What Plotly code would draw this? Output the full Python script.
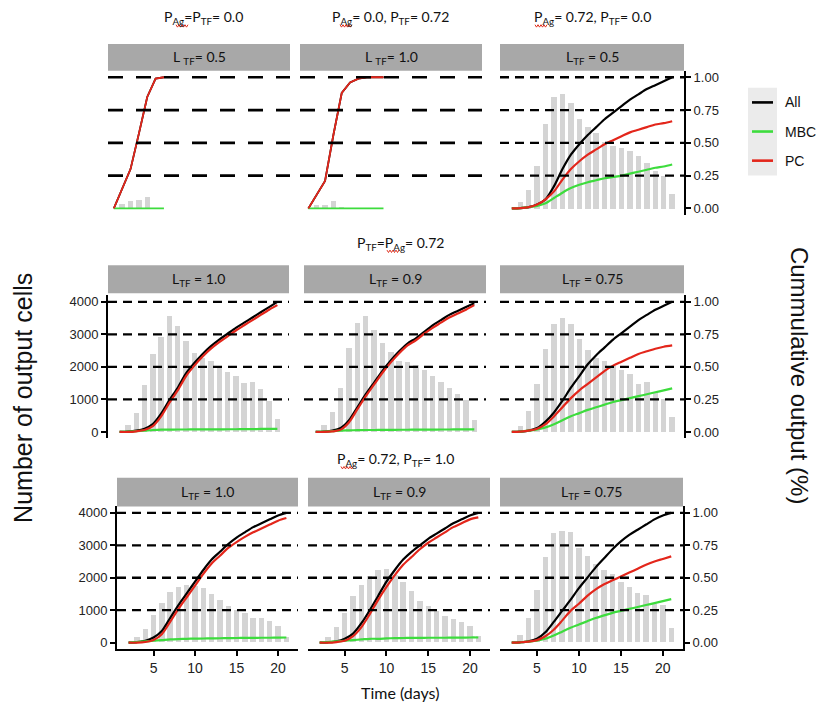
import plotly.graph_objects as go

W, H = 820, 711

# ---------------- data ----------------
line_days = list(range(2, 22))
bar_days = list(range(3, 22))

# top row, left two panels (short simulations)
r1c1_days = [1, 2, 3, 4, 5, 6, 7]
r1c1_all = [0, 0.15, 0.30, 0.57, 0.85, 0.99, 1.0]
r1c1_mbc = [0, 0, 0, 0, 0, 0, 0]
r1c1_pc = [0, 0.15, 0.30, 0.57, 0.85, 0.99, 1.0]
r1c1_bar_days = [2, 3, 4, 5]
r1c1_bars = [150, 250, 275, 355]

r1c2_days = [1, 2, 3, 4, 5, 6, 7, 8, 9, 10]
r1c2_all = [0, 0.10, 0.21, 0.56, 0.88, 0.96, 0.99, 1.0, 1.0, 1.0]
r1c2_mbc = [0, 0, 0, 0, 0, 0, 0, 0, 0, 0]
r1c2_pc = [0, 0.10, 0.21, 0.56, 0.88, 0.96, 0.99, 1.0, 1.0, 1.0]
r1c2_bar_days = [2, 3, 4, 5]
r1c2_bars = [100, 120, 225, 30]

# top row, right panel
r1c3_bars = [200, 580, 1300, 2580, 3420, 3500, 3220, 2750, 2480, 2300,
             2050, 1900, 1850, 1750, 1600, 1400, 1140, 1000, 460]
r1c3_all = [0, 0.003, 0.01, 0.03, 0.07, 0.17, 0.30, 0.41, 0.49, 0.56,
            0.62, 0.68, 0.73, 0.78, 0.83, 0.87, 0.91, 0.94, 0.97, 1.0]
r1c3_mbc = [0, 0.003, 0.01, 0.02, 0.04, 0.08, 0.12, 0.155, 0.18, 0.20,
            0.215, 0.23, 0.24, 0.25, 0.265, 0.28, 0.295, 0.31, 0.32, 0.335]
r1c3_pc = [0, 0.003, 0.01, 0.03, 0.07, 0.13, 0.22, 0.30, 0.36, 0.41,
           0.45, 0.49, 0.52, 0.55, 0.58, 0.60, 0.62, 0.64, 0.65, 0.665]

# middle row
r2c1_bars = [200, 560, 1430, 2400, 2910, 3560, 3260, 2790, 2420, 2250,
             2160, 1960, 1830, 1700, 1500, 1520, 1310, 950, 400]
r2c1_all = [0, 0.003, 0.01, 0.025, 0.06, 0.14, 0.245, 0.34, 0.45, 0.53,
            0.60, 0.66, 0.71, 0.755, 0.80, 0.84, 0.88, 0.92, 0.96, 1.0]
r2c1_mbc = [0, 0.003, 0.006, 0.01, 0.015, 0.018, 0.018, 0.019, 0.019, 0.02,
            0.02, 0.02, 0.02, 0.021, 0.021, 0.022, 0.022, 0.023, 0.023, 0.024]
r2c1_pc = [0, 0, 0.005, 0.015, 0.045, 0.12, 0.225, 0.32, 0.43, 0.51,
           0.58, 0.64, 0.69, 0.735, 0.78, 0.82, 0.86, 0.90, 0.94, 0.975]

r2c2_bars = [205, 615, 1354, 2564, 3354, 3569, 3128, 2738, 2462, 2174,
             2154, 2051, 1897, 1713, 1538, 1333, 1149, 974, 359]
r2c2_all = [0, 0.003, 0.01, 0.03, 0.09, 0.19, 0.29, 0.38, 0.47, 0.55,
            0.62, 0.68, 0.72, 0.77, 0.82, 0.86, 0.90, 0.93, 0.96, 0.99]
r2c2_mbc = [0, 0.003, 0.006, 0.01, 0.012, 0.014, 0.015, 0.015, 0.016, 0.016,
            0.017, 0.017, 0.018, 0.018, 0.018, 0.019, 0.019, 0.02, 0.02, 0.02]
r2c2_pc = [0, 0, 0.004, 0.018, 0.075, 0.175, 0.275, 0.365, 0.455, 0.535,
           0.605, 0.665, 0.705, 0.755, 0.80, 0.84, 0.88, 0.91, 0.94, 0.975]

r2c3_bars = [173, 633, 1449, 2541, 3306, 3490, 3306, 2857, 2520, 2265,
             2163, 2010, 1906, 1786, 1469, 1520, 1214, 990, 449]
r2c3_all = [0, 0.003, 0.01, 0.03, 0.08, 0.15, 0.24, 0.34, 0.43, 0.52,
            0.59, 0.65, 0.71, 0.76, 0.81, 0.86, 0.90, 0.94, 0.97, 1.0]
r2c3_mbc = [0, 0.003, 0.01, 0.02, 0.035, 0.06, 0.09, 0.12, 0.145, 0.17,
            0.19, 0.21, 0.23, 0.245, 0.26, 0.275, 0.29, 0.305, 0.32, 0.335]
r2c3_pc = [0, 0.003, 0.01, 0.025, 0.06, 0.12, 0.19, 0.26, 0.32, 0.37,
           0.42, 0.47, 0.51, 0.54, 0.57, 0.60, 0.62, 0.64, 0.655, 0.665]

# bottom row
r3c1_bars = [154, 410, 851, 1200, 1540, 1713, 1770, 1720, 1670, 1500,
             1300, 1130, 1000, 890, 755, 755, 650, 515, 160]
r3c1_all = [0, 0.005, 0.015, 0.04, 0.09, 0.19, 0.29, 0.38, 0.47, 0.56,
            0.64, 0.70, 0.76, 0.81, 0.85, 0.89, 0.92, 0.95, 0.98, 1.0]
r3c1_mbc = [0, 0.005, 0.01, 0.015, 0.02, 0.025, 0.028, 0.03, 0.031, 0.032,
            0.033, 0.034, 0.035, 0.036, 0.037, 0.037, 0.038, 0.038, 0.039, 0.04]
r3c1_pc = [0, 0, 0.005, 0.02, 0.065, 0.16, 0.26, 0.35, 0.44, 0.53,
           0.61, 0.67, 0.73, 0.775, 0.815, 0.85, 0.88, 0.91, 0.94, 0.96]

r3c2_bars = [155, 464, 907, 1423, 1753, 2031, 2216, 2268, 2082, 1856,
             1577, 1258, 1134, 979, 825, 722, 639, 515, 206]
r3c2_all = [0, 0.003, 0.01, 0.03, 0.07, 0.15, 0.25, 0.36, 0.47, 0.56,
            0.64, 0.70, 0.75, 0.80, 0.84, 0.88, 0.92, 0.95, 0.98, 1.0]
r3c2_mbc = [0, 0.005, 0.01, 0.015, 0.02, 0.025, 0.03, 0.03, 0.033, 0.035,
            0.036, 0.037, 0.037, 0.038, 0.038, 0.038, 0.039, 0.039, 0.04, 0.04]
r3c2_pc = [0, 0, 0.005, 0.015, 0.05, 0.12, 0.22, 0.33, 0.43, 0.52,
           0.60, 0.66, 0.72, 0.77, 0.81, 0.85, 0.89, 0.92, 0.95, 0.965]

r3c3_bars = [224, 735, 1602, 2622, 3357, 3439, 3408, 2898, 2653, 2418,
             2235, 2112, 1857, 1704, 1520, 1449, 1194, 1143, 429]
r3c3_all = [0, 0.003, 0.01, 0.03, 0.08, 0.16, 0.245, 0.33, 0.42, 0.50,
            0.58, 0.65, 0.72, 0.78, 0.83, 0.87, 0.91, 0.95, 0.98, 1.0]
r3c3_mbc = [0, 0.003, 0.008, 0.015, 0.03, 0.055, 0.085, 0.115, 0.14, 0.165,
            0.19, 0.21, 0.23, 0.245, 0.26, 0.275, 0.29, 0.305, 0.32, 0.335]
r3c3_pc = [0, 0.003, 0.008, 0.02, 0.05, 0.10, 0.17, 0.245, 0.30, 0.36,
           0.41, 0.45, 0.48, 0.51, 0.54, 0.57, 0.60, 0.625, 0.645, 0.665]

series_names = ["All", "MBC", "PC"]
series_colors = ["#000000", "#3ddc3d", "#e3261b"]

count_ticks = [0, 1000, 2000, 3000, 4000]
frac_ticks = [0, 0.25, 0.5, 0.75, 1.0]
frac_labels = ["0.00", "0.25", "0.50", "0.75", "1.00"]
day_ticks = [5, 10, 15, 20]

strip_labels = [
    ["L <sub>TF</sub>= 0.5", "L <sub>TF</sub>= 1.0", "L<sub>TF</sub> = 0.5"],
    ["L<sub>TF</sub> = 1.0", "L<sub>TF</sub> = 0.9", "L<sub>TF</sub> = 0.75"],
    ["L<sub>TF</sub> = 1.0", "L<sub>TF</sub> = 0.9", "L<sub>TF</sub> = 0.75"],
]
group_titles = [
    "P<sub>Ag</sub>=P<sub>TF</sub>= 0.0",
    "P<sub>Ag</sub>= 0.0, P<sub>TF</sub>= 0.72",
    "P<sub>Ag</sub>= 0.72, P<sub>TF</sub>= 0.0",
    "P<sub>TF</sub>=P<sub>Ag</sub>= 0.72",
    "P<sub>Ag</sub>= 0.72, P<sub>TF</sub>= 1.0",
]

# ---------------- layout geometry (pixels) ----------------
def px_x(v):
    return v / W

def px_y(v):
    return 1 - v / H

rows_y = [(69.9, 214.6), (295.2, 438.7), (506.8, 650.0)]
strips_y = [(43, 70), (265, 293), (478, 507)]
cols_x = [
    [(108, 290), (300, 482), (500, 684)],
    [(108, 289), (304, 486), (500, 684)],
    [(117, 298), (308, 490), (500, 683)],
]
x_ranges = [
    [[0.3, 22.1], [0.0, 21.8], [0.6, 22.4]],
    [[0.6, 22.4], [0.6, 22.4], [0.6, 22.4]],
    [[0.6, 22.4], [0.6, 22.4], [0.6, 22.4]],
]

panels = [
    [(r1c1_bar_days, r1c1_bars, r1c1_days, [r1c1_all, r1c1_mbc, r1c1_pc]),
     (r1c2_bar_days, r1c2_bars, r1c2_days, [r1c2_all, r1c2_mbc, r1c2_pc]),
     (bar_days, r1c3_bars, line_days, [r1c3_all, r1c3_mbc, r1c3_pc])],
    [(bar_days, r2c1_bars, line_days, [r2c1_all, r2c1_mbc, r2c1_pc]),
     (bar_days, r2c2_bars, line_days, [r2c2_all, r2c2_mbc, r2c2_pc]),
     (bar_days, r2c3_bars, line_days, [r2c3_all, r2c3_mbc, r2c3_pc])],
    [(bar_days, r3c1_bars, line_days, [r3c1_all, r3c1_mbc, r3c1_pc]),
     (bar_days, r3c2_bars, line_days, [r3c2_all, r3c2_mbc, r3c2_pc]),
     (bar_days, r3c3_bars, line_days, [r3c3_all, r3c3_mbc, r3c3_pc])],
]

tick_font = dict(family="Liberation Sans, Arial, sans-serif", size=13, color="#222")
label_font = dict(family="Lato, Open Sans, sans-serif", size=14, color="#111")

fig = go.Figure()
layout = dict(
    width=W, height=H, autosize=False,
    margin=dict(l=0, r=0, t=0, b=0),
    paper_bgcolor="white", plot_bgcolor="rgba(0,0,0,0)",
    showlegend=False, bargap=0,
)
shapes = []
annotations = []

n = 0
for r in range(3):
    for c in range(3):
        n += 1
        xa = "x" if n == 1 else f"x{n}"
        yc = 2 * n - 1
        yf = 2 * n
        ya_c = "y" if yc == 1 else f"y{yc}"
        ya_f = f"y{yf}"
        bdays, bars, ldays, lines = panels[r][c]
        short_run = (r == 0 and c < 2)

        fig.add_trace(go.Bar(x=bdays, y=bars, width=0.65, marker_color="#d4d4d4",
                             marker_line_width=0, xaxis=xa, yaxis=ya_c))
        for name, color, vals in zip(series_names, series_colors, lines):
            fig.add_trace(go.Scatter(
                x=ldays, y=vals, mode="lines", name=name,
                line=dict(color=color, width=1.8 if short_run else 2.2,
                          shape="linear" if short_run else "spline",
                          smoothing=0.8),
                xaxis=xa, yaxis=ya_f))

        x0, x1 = cols_x[r][c]
        t0, t1 = rows_y[r]
        bottom_row = r == 2
        layout[f"xaxis{'' if n == 1 else n}"] = dict(
            domain=[px_x(x0), px_x(x1)], range=x_ranges[r][c], anchor=ya_c,
            showgrid=False, zeroline=False,
            showline=bottom_row, linecolor="black", linewidth=2,
            ticks="outside" if bottom_row else "", ticklen=5, tickwidth=1.5,
            tickcolor="black", tickvals=day_ticks, showticklabels=bottom_row,
            tickfont=dict(family=tick_font["family"], size=14, color="#222"),
        )
        left_axis = (c == 0 and r > 0)
        layout[f"yaxis{'' if yc == 1 else yc}"] = dict(
            domain=[px_y(t1), px_y(t0)], range=[-200, 4200], anchor=xa,
            showgrid=False, zeroline=False,
            showline=left_axis, linecolor="black", linewidth=2,
            ticks="outside" if left_axis else "", ticklen=5, tickwidth=1.5,
            tickcolor="black", tickvals=count_ticks, showticklabels=left_axis,
            tickfont=tick_font,
        )
        right_axis = c == 2
        layout[f"yaxis{yf}"] = dict(
            range=[-0.05, 1.05], overlaying=ya_c, anchor=xa, side="right",
            showgrid=False, zeroline=False,
            showline=right_axis, linecolor="black", linewidth=2,
            ticks="outside" if right_axis else "", ticklen=5, tickwidth=1.5,
            tickcolor="black", tickvals=frac_ticks, ticktext=frac_labels,
            showticklabels=right_axis, tickfont=tick_font,
        )

        # dashed reference lines at each quarter, drawn over the curves
        for q in frac_ticks[1:]:
            shapes.append(dict(
                type="line", layer="above",
                xref=f"{xa} domain", x0=0, x1=1, yref=ya_f, y0=q, y1=q,
                line=dict(color="black", width=2.7 if short_run else 2.3,
                          dash="15px,13px" if short_run else "9px,6px"),
            ))

        # facet strip
        s0, s1 = strips_y[r]
        shapes.append(dict(type="rect", xref="paper", yref="paper", layer="below",
                           x0=px_x(x0), x1=px_x(x1), y0=px_y(s1), y1=px_y(s0),
                           fillcolor="#a8a8a8", line=dict(width=0)))
        annotations.append(dict(xref="paper", yref="paper", x=px_x((x0 + x1) / 2),
                                y=px_y((s0 + s1) / 2), text=strip_labels[r][c],
                                showarrow=False, xanchor="center", yanchor="middle",
                                font=label_font))

# group titles above the facets
title_pos = [(203, 17), (390, 17), (592, 17), (400, 243), (395, 460)]
for txt, (tx, ty) in zip(group_titles, title_pos):
    annotations.append(dict(xref="paper", yref="paper", x=px_x(tx), y=px_y(ty),
                            text=txt, showarrow=False, xanchor="center",
                            yanchor="middle", font=label_font))

# red spell-check squiggles under the "Ag" subscripts
squiggle_spans = [(176, 188, 25), (340, 352, 25), (535, 547, 25),
                  (387, 399, 251), (341, 353, 468)]
for sx0, sx1, sy in squiggle_spans:
    pts = []
    x = sx0
    k = 0
    while x <= sx1:
        yy = sy + (1.2 if k % 2 else -1.2)
        pts.append(f"{px_x(x):.5f},{px_y(yy):.5f}")
        x += 1.5
        k += 1
    shapes.append(dict(type="path", xref="paper", yref="paper",
                       path="M" + " L".join(pts),
                       line=dict(color="#e0301e", width=1)))

# axis titles
annotations.append(dict(xref="paper", yref="paper", x=px_x(23), y=px_y(398),
                        text="Number of output cells", textangle=-90, showarrow=False,
                        xanchor="center", yanchor="middle",
                        font=dict(family="Liberation Sans, Arial, sans-serif",
                                  size=25, color="#111")))
annotations.append(dict(xref="paper", yref="paper", x=px_x(799), y=px_y(375),
                        text="Cummulative output (%)", textangle=90, showarrow=False,
                        xanchor="center", yanchor="middle",
                        font=dict(family="Liberation Sans, Arial, sans-serif",
                                  size=24, color="#111")))
annotations.append(dict(xref="paper", yref="paper", x=px_x(400), y=px_y(693),
                        text="Time (days)", showarrow=False, xanchor="center",
                        yanchor="middle",
                        font=dict(family="Lato, Open Sans, sans-serif", size=16,
                                  color="#111")))

# legend
shapes.append(dict(type="rect", xref="paper", yref="paper", layer="below",
                   x0=px_x(748), x1=px_x(777), y0=px_y(175), y1=px_y(87),
                   fillcolor="#ebebeb", line=dict(width=0)))
for i, (name, color) in enumerate(zip(series_names, series_colors)):
    ky = 101.7 + i * 29.2
    shapes.append(dict(type="line", xref="paper", yref="paper",
                       x0=px_x(752), x1=px_x(773), y0=px_y(ky), y1=px_y(ky),
                       line=dict(color=color, width=2.6)))
    annotations.append(dict(xref="paper", yref="paper", x=px_x(783), y=px_y(ky),
                            text=name, showarrow=False, xanchor="left",
                            yanchor="middle",
                            font=dict(family="Liberation Sans, Arial, sans-serif",
                                      size=14, color="#111")))

layout["shapes"] = shapes
layout["annotations"] = annotations
fig.update_layout(**layout)
fig.write_html("out.html", config={"displayModeBar": False})
